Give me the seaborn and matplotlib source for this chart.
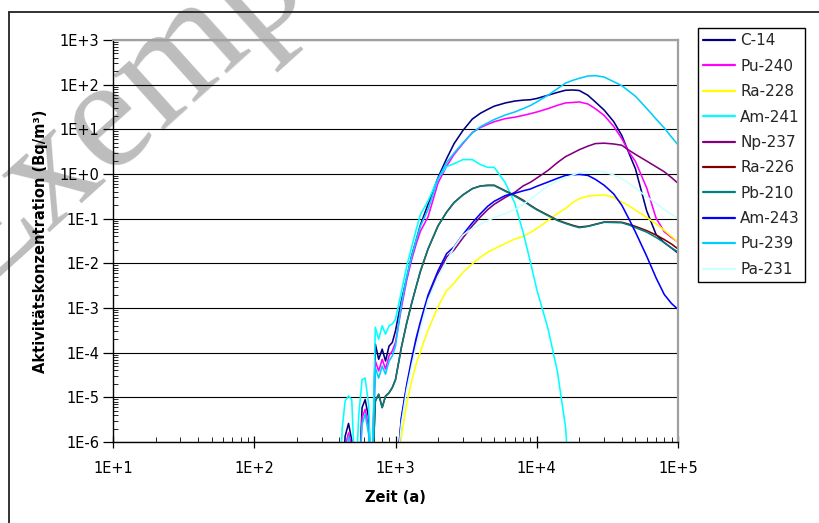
import numpy as np
import pandas as pd
import matplotlib
matplotlib.use("Agg")
import matplotlib.pyplot as plt
import seaborn as sns
from matplotlib.ticker import FixedLocator, FuncFormatter, LogLocator, NullFormatter
from matplotlib.lines import Line2D

NAN = np.nan

# Zeit (a)
TIME = [400, 420, 440, 465, 490, 520, 550, 580, 610, 645, 680, 720, 760, 805, 850, 900, 950, 1000,
        1100, 1200, 1300, 1400, 1500, 1700, 2000, 2300, 2600, 3000, 3500, 4000, 4500, 5000,
        6000, 7000, 8000, 9000, 10000, 12000, 14000, 16000, 18000, 20000, 23000, 26000,
        30000, 35000, 40000, 45000, 50000, 60000, 70000, 80000, 90000, 100000]

# Aktivitaetskonzentration (Bq/m3); 1e-7 / 1e-8 = below the plotted range
C14 = [1e-7, 1e-7, 1.35e-6, 2.6e-6, 1.1e-6, 1e-7, 1e-7, 5.9e-6, 8.9e-6, 3.5e-6, 1e-7,
       1.55e-4, 7.1e-5, 1.2e-4, 6.5e-5, 1.4e-4, 1.7e-4, 3.1e-4,
       1.45e-3, 4.7e-3, 1.45e-2, 3.3e-2, 7.2e-2, 0.21, 0.83, 2.2, 4.8, 9.4, 17, 23, 28, 33,
       39, 43, 45, 46, 49, 58, 67, 75, 76, 74, 58, 41, 27, 15, 7.3, 2.9, 1.3, 0.15, 0.044,
       0.029, 0.022, 0.017]
PU240 = [1e-7, 1e-7, 8e-7, 1.6e-6, 8e-7, 1e-7, 1e-7, 3.5e-6, 5.4e-6, 2.1e-6, 1e-7,
         6.5e-5, 3.9e-5, 7.1e-5, 4.3e-5, 8.5e-5, 1.1e-4, 1.7e-4,
         1.0e-3, 4.2e-3, 1.2e-2, 2.7e-2, 5.2e-2, 0.11, 0.63, 1.5, 2.75, 4.8, 8.5, 11, 13, 14.8,
         17.4, 18.7, 20.5, 22.4, 24.4, 29, 34.5, 39, 40, 41, 37, 29, 20.5, 11.7, 6.2, 3.1, 1.9,
         0.49, 0.102, 0.051, 0.038, 0.030]
RA228 = [NAN] * 17 + [1e-7,
         1.3e-6, 7.2e-6, 2.3e-5, 5.6e-5, 1.05e-4, 3.2e-4, 1.07e-3, 2.45e-3, 3.6e-3, 6.3e-3,
         9.8e-3, 1.38e-2, 1.78e-2, 2.1e-2, 2.8e-2, 3.5e-2, 4.0e-2, 4.9e-2, 6.0e-2, 9.1e-2,
         0.13, 0.17, 0.23, 0.28, 0.32, 0.33, 0.34, 0.30, 0.235, 0.195, 0.155, 0.107, 0.076,
         0.055, 0.040, 0.030]
AM241 = [1e-7, 2.1e-6, 8.3e-6, 1.07e-5, 8.9e-6, 1e-7, 4.2e-6, 2.5e-5, 2.7e-5, 6.9e-6, 1e-7,
         3.7e-4, 2.0e-4, 4.0e-4, 2.6e-4, 4.0e-4, 4.4e-4, 5.6e-4,
         2.3e-3, 8.5e-3, 2.3e-2, 5.6e-2, 0.123, 0.25, 0.79, 1.47, 1.7, 2.1, 2.1, 1.62, 1.41,
         1.41, 0.63, 0.22, 0.050, 1.1e-2, 2.6e-3, 3.5e-4, 3.8e-5, 2.1e-6, 1e-8] + [NAN] * 13
NP237 = [NAN] * 17 + [1e-7,
         3.2e-6, 1.74e-5, 6.0e-5, 1.74e-4, 4.1e-4, 1.66e-3, 5.8e-3, 1.38e-2, 2.0e-2, 3.7e-2,
         6.9e-2, 0.11, 0.16, 0.21, 0.30, 0.39, 0.54, 0.65, 0.81, 1.2, 1.8, 2.45, 2.95, 3.5,
         4.2, 4.8, 4.9, 4.7, 4.4, 3.4, 2.75, 1.95, 1.45, 1.12, 0.83, 0.62]
RA226 = [NAN] * 10 + [1e-7, 8.3e-6, 1.17e-5, 5.9e-6, 1.07e-5, 1.26e-5, 1.66e-5, 2.5e-5,
         1.3e-4, 4.6e-4, 1.26e-3, 3.0e-3, 6.6e-3, 2.1e-2, 6.9e-2, 0.14, 0.23, 0.34, 0.47,
         0.54, 0.56, 0.56, 0.42, 0.33, 0.26, 0.20, 0.162, 0.12, 0.093, 0.080, 0.071, 0.065,
         0.068, 0.075, 0.084, 0.084, 0.083, 0.075, 0.067, 0.054, 0.043, 0.034, 0.027, 0.021]
PB210 = [NAN] * 10 + [1e-7, 8.3e-6, 1.17e-5, 5.9e-6, 1.07e-5, 1.26e-5, 1.66e-5, 2.5e-5,
         1.3e-4, 4.6e-4, 1.26e-3, 3.0e-3, 6.6e-3, 2.1e-2, 6.9e-2, 0.14, 0.23, 0.34, 0.47,
         0.54, 0.55, 0.55, 0.41, 0.32, 0.25, 0.195, 0.158, 0.117, 0.091, 0.078, 0.069, 0.063,
         0.067, 0.074, 0.083, 0.082, 0.081, 0.072, 0.063, 0.050, 0.038, 0.029, 0.022, 0.018]
AM243 = [NAN] * 17 + [1e-7,
         3.5e-6, 1.9e-5, 7.1e-5, 2.1e-4, 4.9e-4, 1.95e-3, 6.8e-3, 1.65e-2, 2.35e-2, 4.4e-2,
         8.1e-2, 0.13, 0.19, 0.245, 0.33, 0.37, 0.42, 0.46, 0.53, 0.66, 0.80, 0.93, 0.96, 0.98,
         0.93, 0.76, 0.56, 0.36, 0.20, 0.098, 0.050, 1.45e-2, 4.7e-3, 2.0e-3, 1.26e-3, 9.3e-4]
PU239 = [1e-7, 1e-7, 1e-7, 1.35e-6, 1e-7, 1e-7, 1e-7, 2.5e-6, 4.2e-6, 1.5e-6, 1e-7,
         4.6e-5, 2.7e-5, 5.0e-5, 3.3e-5, 6.5e-5, 8.5e-5, 1.4e-4,
         1.2e-3, 5.0e-3, 1.4e-2, 3.3e-2, 6.8e-2, 0.16, 0.78, 1.8, 2.95, 5.0, 8.3, 11.5, 14,
         16.6, 21, 24.5, 29, 34, 41, 58, 81, 109, 125, 139, 156, 159, 148, 117, 95, 71, 55,
         29.5, 17, 10.7, 6.7, 4.5]
PA231 = [NAN] * 17 + [1e-7,
         2.5e-6, 1.45e-5, 4.9e-5, 1.4e-4, 3.5e-4, 1.5e-3, 5.1e-3, 1.12e-2, 2.3e-2, 4.3e-2,
         0.060, 0.076, 0.091, 0.105, 0.13, 0.16, 0.21, 0.27, 0.35, 0.54, 0.71, 0.83, 0.95,
         1.08, 1.12, 1.15, 1.12, 0.95, 0.78, 0.62, 0.48, 0.31, 0.22, 0.16, 0.126, 0.10]

NAMES = ["C-14", "Pu-240", "Ra-228", "Am-241", "Np-237", "Ra-226", "Pb-210",
         "Am-243", "Pu-239", "Pa-231"]
SERIES = [C14, PU240, RA228, AM241, NP237, RA226, PB210, AM243, PU239, PA231]
COLORS = ["#000080", "#FF00FF", "#FFFF00", "#00FFFF", "#800080", "#800000",
          "#008080", "#0000FF", "#00CCFF", "#CCFFFF"]

Y_TICKS = [1e-6, 1e-5, 1e-4, 1e-3, 1e-2, 1e-1, 1e0, 1e1, 1e2, 1e3]
X_TICKS = [1e1, 1e2, 1e3, 1e4, 1e5]

rows = []
for name, vals in zip(NAMES, SERIES):
    for t, v in zip(TIME, vals):
        rows.append({"Zeit": t, "Konz": v, "Nuklid": name})
df = pd.DataFrame(rows).dropna()

sns.set_theme(style="white")
plt.rcParams["font.family"] = ["DejaVu Sans"]

W, H = 819, 523
fig = plt.figure(figsize=(W / 100, H / 100), dpi=100)
fig.patch.set_facecolor("white")
ax = fig.add_axes([113 / W, 1 - 442 / H, (678 - 113) / W, (442 - 40) / H])
ax.set_facecolor("none")

sns.lineplot(data=df, x="Zeit", y="Konz", hue="Nuklid", hue_order=NAMES,
             palette=dict(zip(NAMES, COLORS)), estimator=None, sort=False,
             linewidth=1.15, ax=ax)

ax.set_xscale("log")
ax.set_yscale("log")
ax.set_xlim(10, 1e5)
ax.set_ylim(1e-6, 1e3)

def efmt(v, pos=None):
    k = int(round(np.log10(v)))
    return f"1E{k:+d}"

ax.yaxis.set_major_locator(FixedLocator(Y_TICKS))
ax.xaxis.set_major_locator(FixedLocator(X_TICKS))
ax.yaxis.set_major_formatter(FuncFormatter(efmt))
ax.xaxis.set_major_formatter(FuncFormatter(efmt))
ax.yaxis.set_minor_locator(LogLocator(base=10, subs=np.arange(2, 10), numticks=20))
ax.xaxis.set_minor_locator(LogLocator(base=10, subs=np.arange(2, 10), numticks=20))
ax.yaxis.set_minor_formatter(NullFormatter())
ax.xaxis.set_minor_formatter(NullFormatter())

ax.tick_params(axis="y", which="major", direction="out", length=7, width=0.9,
               labelsize=10.5, pad=3, colors="black", left=True)
ax.tick_params(axis="y", which="minor", direction="in", length=3.5, width=0.7, left=True)
ax.tick_params(axis="x", which="major", direction="inout", length=9, width=0.9,
               labelsize=10.5, pad=9, colors="black", bottom=True)
ax.tick_params(axis="x", which="minor", direction="in", length=3.5, width=0.7, bottom=True)

ax.grid(False)
ax.yaxis.grid(True, which="major", color="black", linewidth=0.8)
ax.set_axisbelow(True)

for s in ["left", "bottom"]:
    ax.spines[s].set_color("black")
    ax.spines[s].set_linewidth(1.0)
for s in ["top", "right"]:
    ax.spines[s].set_color("#a0a0a0")
    ax.spines[s].set_linewidth(1.6)

ax.set_ylabel("Aktivitätskonzentration (Bq/m³)", fontsize=10.5, fontweight="bold", color="black")
ax.set_xlabel("Zeit (a)", fontsize=10.5, fontweight="bold", color="black")
ax.yaxis.set_label_coords((48 - 113) / (678 - 113), 0.5)
ax.xaxis.set_label_coords(0.5, (442 - 490) / (442 - 40))

handles, labels = ax.get_legend_handles_labels()
ax.get_legend().remove()
leg = fig.legend(handles, labels, loc="upper left", bbox_to_anchor=(698 / W, 1 - 28 / H),
                 frameon=True, fancybox=False, edgecolor="black", facecolor="white",
                 framealpha=1, borderaxespad=0, fontsize=11, labelspacing=0.68,
                 handlelength=2.1, handletextpad=0.3, borderpad=0.35)
leg.get_frame().set_linewidth(1.0)
for lh in leg.get_lines():
    lh.set_linewidth(1.6)

# chart-area frame (left and top edges)
fig.add_artist(Line2D([8.5 / W, 8.5 / W], [0, 1 - 12 / H], transform=fig.transFigure,
                      color="#222222", linewidth=1.3))
fig.add_artist(Line2D([8.5 / W, 1], [1 - 12 / H, 1 - 12 / H], transform=fig.transFigure,
                      color="#222222", linewidth=1.3))

# watermark (behind the plot contents)
fig.text(-24 / W, 1 - 295 / H, "Exemplar", rotation=42, rotation_mode="anchor",
         ha="left", va="baseline", fontsize=115, family=["Liberation Serif", "DejaVu Serif"],
         color="#b6b6b6", alpha=0.9, zorder=-5)

fig.savefig("out.png", dpi=100, facecolor="white")
